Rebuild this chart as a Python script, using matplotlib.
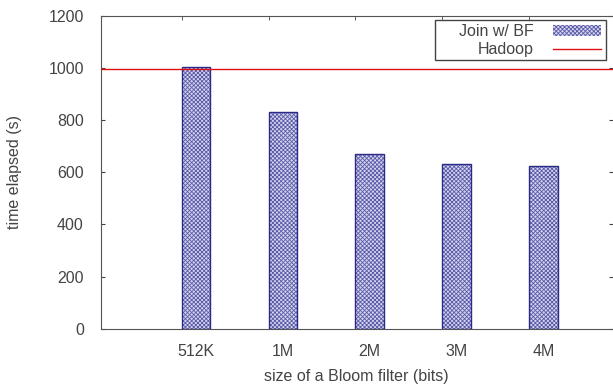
import matplotlib.pyplot as plt
from matplotlib.patches import Rectangle
import numpy as np

plt.rcParams['font.family'] = ['Liberation Sans', 'DejaVu Sans']
plt.rcParams['hatch.linewidth'] = 0.6

# data
sizes = ['512K', '1M', '2M', '3M', '4M']
join_bf = [1005, 832, 672, 633, 625]
hadoop = 995
yticks = [0, 200, 400, 600, 800, 1000, 1200]

txt = '#444444'
fs = 11.5
fig = plt.figure(figsize=(6.13, 3.88), dpi=100)
ax = fig.add_axes([0.164, 0.153, 0.836, 0.806])

pos = np.arange(len(sizes))
width = 0.33
# pattern fill, then the dark outline on top
bars = ax.bar(pos, join_bf, width=width, facecolor='#d4d4ee', edgecolor='#5a5aa8',
              hatch='x' * 8, linewidth=0, label='Join w/ BF', zorder=2)
ax.bar(pos, join_bf, width=width, fill=False, edgecolor='#2a2a88', linewidth=1.0, zorder=2)
line = ax.axhline(hadoop, color='#e01010', linewidth=1.0, label='Hadoop', zorder=3)

ax.set_xlim(-1.1, 4.8)
ax.set_ylim(0, 1200)
ax.set_yticks(yticks)
ax.set_xticks(pos)
ax.set_xticklabels(sizes)
ax.set_xticks(pos - width / 2, minor=True)

ax.tick_params(axis='x', which='major', length=0, pad=11, labelsize=fs, labelcolor=txt)
ax.tick_params(axis='x', which='minor', direction='in', length=3, top=True, bottom=True, color='#444444')
ax.tick_params(axis='y', direction='in', length=3, right=True, pad=12, labelsize=fs,
               labelcolor=txt, color='#444444')

for s in ['left', 'top', 'bottom']:
    ax.spines[s].set_color('#555555')
ax.spines['right'].set_visible(False)

ax.set_xlabel('size of a Bloom filter (bits)', fontsize=fs, color=txt, labelpad=7)
ax.set_ylabel('time elapsed (s)', fontsize=fs, color=txt, labelpad=19)

# legend like gnuplot: text right aligned, sample on the right, wide box
leg = ax.legend([bars, line], ['Join w/ BF', 'Hadoop'], loc='upper right',
                bbox_to_anchor=(604 / 613, 1 - 21 / 388), bbox_transform=fig.transFigure,
                markerfirst=False, frameon=False, fontsize=fs, handlelength=3.0,
                handleheight=0.6, handletextpad=1.2, borderpad=0.2, labelspacing=0.2,
                borderaxespad=0)
for t in leg.get_texts():
    t.set_color(txt)
fig.add_artist(Rectangle((435 / 613, 1 - 60 / 388), 171 / 613, 40 / 388,
                         transform=fig.transFigure, fill=False, edgecolor='#444444',
                         linewidth=1.0, zorder=5))

plt.savefig('out.png', dpi=100)
